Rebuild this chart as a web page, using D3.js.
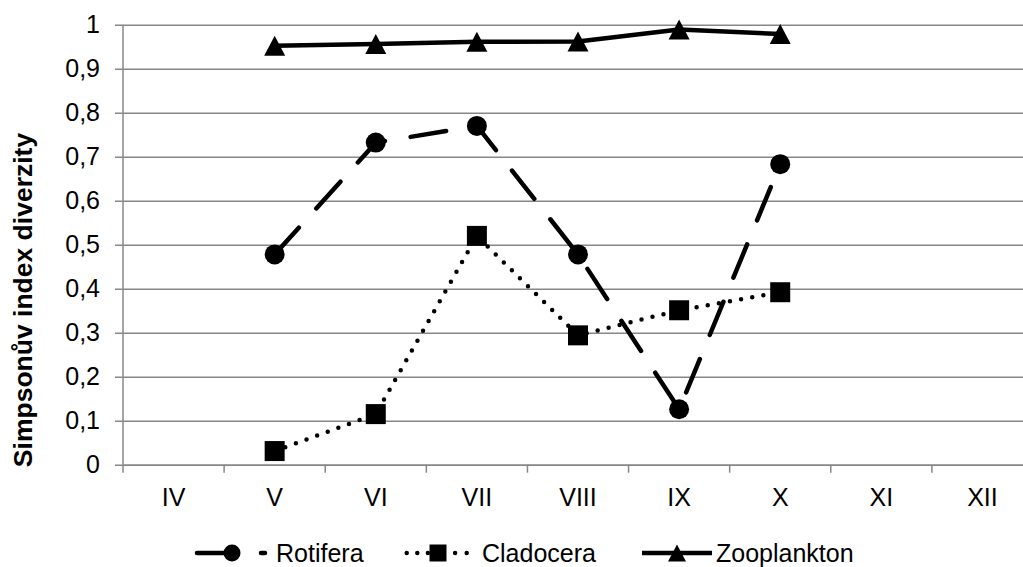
<!DOCTYPE html>
<html>
<head>
<meta charset="utf-8">
<script src="https://cdn.jsdelivr.net/npm/d3@7"></script>
<style>
    body { margin: 0; background: #fff; }
    text { font-family: "Liberation Sans", Arial, sans-serif; }
</style>
</head>
<body>
<div id="chart"></div>
<script>
var months = ["IV", "V", "VI", "VII", "VIII", "IX", "X", "XI", "XII"];
var rotifera = [null, 0.478, 0.732, 0.770, 0.478, 0.126, 0.683, null, null];
var cladocera = [null, 0.031, 0.115, 0.520, 0.294, 0.351, 0.392, null, null];
var zooplankton = [null, 0.952, 0.956, 0.961, 0.962, 0.989, 0.979, null, null];
var yTicks = [0, 0.1, 0.2, 0.3, 0.4, 0.5, 0.6, 0.7, 0.8, 0.9, 1];

var width = 1023, height = 567;
var plotLeft = 123, plotRight = 1033, plotTop = 24.7, plotBottom = 464.7;

var svg = d3.select("#chart")
    .append("svg")
    .attr("width", width)
    .attr("height", height);

var x = d3.scaleBand()
    .domain(months)
    .range([plotLeft, plotRight])
    .padding(0);

var y = d3.scaleLinear()
    .domain([0, 1])
    .range([plotBottom, plotTop]);

// horizontal grid lines + y axis
var yAxis = svg.append("g")
    .attr("transform", "translate(" + plotLeft + ",0)")
    .call(d3.axisLeft(y)
        .tickValues(yTicks)
        .tickSize(8)
        .tickPadding(15)
        .tickFormat(function (d) { return String(+d.toFixed(1)).replace(".", ","); }));
yAxis.select(".domain").remove();
yAxis.selectAll(".tick line")
    .attr("x1", -8)
    .attr("x2", plotRight - plotLeft)
    .attr("stroke", "#878787")
    .attr("stroke-width", 1.5);
yAxis.selectAll(".tick text")
    .style("font-size", "25px")
    .attr("fill", "#000");

svg.append("line")
    .attr("x1", plotLeft).attr("x2", plotLeft)
    .attr("y1", plotTop).attr("y2", plotBottom)
    .attr("stroke", "#878787")
    .attr("stroke-width", 1.5);

// x axis
var xAxis = svg.append("g")
    .attr("transform", "translate(0," + plotBottom + ")")
    .call(d3.axisBottom(x).tickSize(0).tickPadding(24));
xAxis.select(".domain")
    .attr("stroke", "#878787")
    .attr("stroke-width", 1.5);
xAxis.selectAll(".tick text")
    .style("font-size", "25px")
    .attr("fill", "#000");

svg.append("g")
    .selectAll("line")
    .data(d3.range(months.length + 1))
    .enter()
    .append("line")
    .attr("x1", function (i) { return plotLeft + i * x.bandwidth(); })
    .attr("x2", function (i) { return plotLeft + i * x.bandwidth(); })
    .attr("y1", plotBottom)
    .attr("y2", plotBottom + 8)
    .attr("stroke", "#878787")
    .attr("stroke-width", 1.5);

svg.append("text")
    .attr("transform", "translate(32,300) rotate(-90)")
    .attr("text-anchor", "middle")
    .style("font-size", "26.5px")
    .style("font-weight", "bold")
    .text("Simpsonův index diverzity");

var cx = function (i) { return x(months[i]) + x.bandwidth() / 2; };

var series = [
    { name: "Rotifera", values: rotifera, dash: "36,26", marker: "circle" },
    { name: "Cladocera", values: cladocera, dash: "0,11.3", marker: "square" },
    { name: "Zooplankton", values: zooplankton, dash: null, marker: "triangle" }
];

function markerPath(type, s) {
    if (type == "circle") return d3.symbol().type(d3.symbolCircle).size(Math.PI * s * s)();
    if (type == "square") return "M" + (-s) + "," + (-s) + "H" + s + "V" + s + "H" + (-s) + "Z";
    return "M0," + (-s) + "L" + (s + 0.5) + "," + s + "L" + (-s - 0.5) + "," + s + "Z";
}

var line = d3.line()
    .defined(function (d) { return d != null; })
    .x(function (d, i) { return cx(i); })
    .y(function (d) { return y(d); });

series.forEach(function (s) {
    svg.append("path")
        .datum(s.values)
        .attr("d", line)
        .attr("fill", "none")
        .attr("stroke", "#000")
        .attr("stroke-width", 4.5)
        .attr("stroke-linecap", s.dash ? "round" : "butt")
        .attr("stroke-linejoin", "round")
        .attr("stroke-dasharray", s.dash);

    svg.append("g")
        .selectAll("path")
        .data(s.values.map(function (v, i) { return { v: v, i: i }; }).filter(function (d) { return d.v != null; }))
        .enter()
        .append("path")
        .attr("transform", function (d) { return "translate(" + cx(d.i) + "," + y(d.v) + ")"; })
        .attr("d", markerPath(s.marker, 10))
        .attr("fill", "#000");
});

// legend (each sample drawn as pieces that start at the outer ends, like Excel does)
var ly = 553;
var legendItems = [
    { pieces: [[197, 265, "38,26"]], marker: 232, text: 276 },
    { pieces: [[406.7, 438, "0,10.6"], [466.7, 438, "0,11.6"]], marker: 438, text: 482 },
    { pieces: [[642, 712, null]], marker: 677, text: 716 }
];
series.forEach(function (s, k) {
    var item = legendItems[k];
    var g = svg.append("g");
    item.pieces.forEach(function (p) {
        g.append("line")
            .attr("x1", p[0]).attr("x2", p[1])
            .attr("y1", ly).attr("y2", ly)
            .attr("stroke", "#000")
            .attr("stroke-width", 4.5)
            .attr("stroke-linecap", p[2] ? "round" : "butt")
            .attr("stroke-dasharray", p[2]);
    });
    g.append("path")
        .attr("transform", "translate(" + item.marker + "," + ly + ")")
        .attr("d", markerPath(s.marker, 8.5))
        .attr("fill", "#000");
    g.append("text")
        .attr("x", item.text)
        .attr("y", ly + 9)
        .style("font-size", "25px")
        .text(s.name);
});
</script>
</body>
</html>
